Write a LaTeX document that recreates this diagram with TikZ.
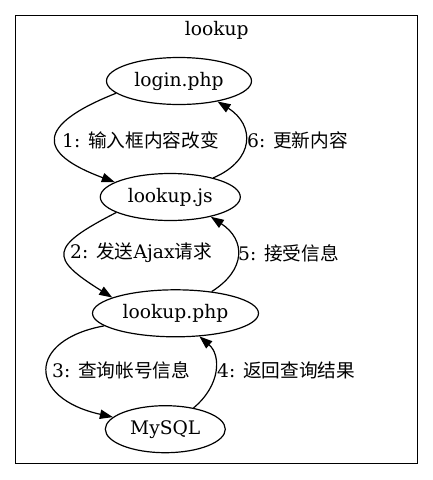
\documentclass[tikz,border=0pt]{standalone}
\usepackage{fontspec}
\setmainfont{DejaVu Serif}
\newfontfamily\cjk{Noto Sans CJK SC}
\usetikzlibrary{shapes.geometric,arrows.meta}
\begin{document}
\begin{tikzpicture}[x=1pt,y=-1pt,
  every node/.style={font=\fontsize{18.67}{22}\selectfont},
  gnode/.style={draw, ellipse, line width=1.2pt, inner sep=0pt, minimum height=47pt},
  lbl/.style={anchor=west, inner sep=0pt},
  edge/.style={line width=1.2pt, -{Triangle[length=13pt,width=9.3pt]}}]
\useasboundingbox (0,0) rectangle (433,480);
\fill[white] (0,0) rectangle (433,480);
\draw[line width=1.3pt] (15.7,15.7) rectangle (417.3,463.3);
\node (title) at (216.7,30) {lookup};
\node[gnode, minimum width=145pt] (A) at (179,81) {login.php};
\node[gnode, minimum width=140pt] (B) at (170.3,197) {lookup.js};
\node[gnode, minimum width=166pt] (C) at (175.5,313.3) {lookup.php};
\node[gnode, minimum width=120pt] (D) at (165.3,429.2) {MySQL};
\draw[edge] (A.191.5) .. controls (36,125) and (36,153) .. (B.165.7);
\draw[edge] (B.24) .. controls (255,160) and (255,125) .. (A.-28);
\draw[edge] (B.196.1) .. controls (49,247) and (49,258) .. (C.166.2);
\draw[edge] (C.31.9) .. controls (246,270) and (246,240) .. (B.-26.7);
\draw[edge] (C.190.7) .. controls (27,340) and (27,398) .. (D.167.9);
\draw[edge] (D.37.4) .. controls (221,385) and (221,355) .. (C.-44);
\node[lbl] (l1) at (62,140) {1: {\cjk 输入框内容改变}};
\node[lbl] (l6) at (247,140) {6: {\cjk 更新内容}};
\node[lbl] (l2) at (70,253) {2: {\cjk 发送}Ajax{\cjk 请求}};
\node[lbl] (l5) at (238,253) {5: {\cjk 接受信息}};
\node[lbl] (l3) at (52,370) {3: {\cjk 查询帐号信息}};
\node[lbl] (l4) at (217,370) {4: {\cjk 返回查询结果}};
\end{tikzpicture}
\end{document}
